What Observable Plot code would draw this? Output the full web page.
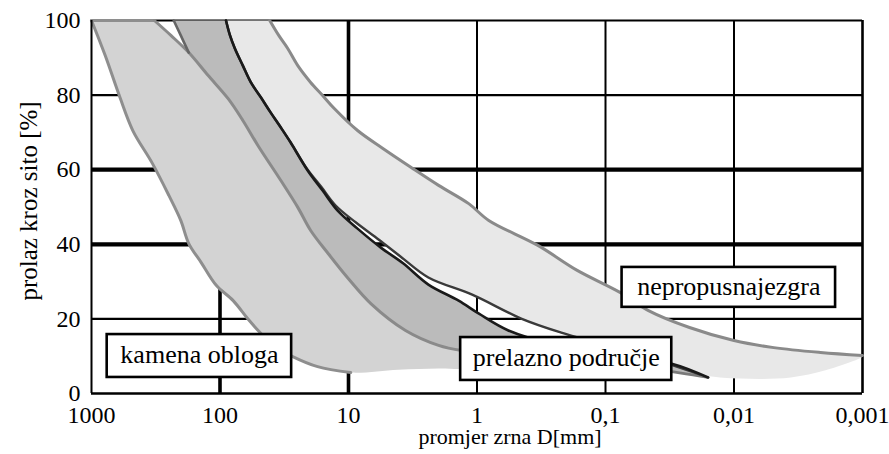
<!DOCTYPE html>
<html>
<head>
<meta charset="utf-8">
<script src="https://cdn.jsdelivr.net/npm/d3@7"></script>
<script src="https://cdn.jsdelivr.net/npm/@observablehq/plot@0.6"></script>
<style>
  html, body { margin: 0; padding: 0; background: white; }
  svg { display: block; }
  #chart svg text { font-family: "Liberation Serif", "Times New Roman", serif !important; fill: black; }
  #chart g[aria-label="x-axis tick label"] text { font-size: 24px !important; }
  #chart g[aria-label="y-axis tick label"] text { font-size: 24px !important; }
  #chart g[aria-label="xtitle"] text { font-size: 22px !important; }
  #chart g[aria-label="ytitle"] text { font-size: 25px !important; }
  #chart g[aria-label="zonelabels"] text { font-size: 26px !important; }
</style>
</head>
<body>
<div id="chart"></div>
<script>
// ---- data: [grain diameter D (mm), passing (%)] ----
const xTicks = [1000, 100, 10, 1, 0.1, 0.01, 0.001];
const xTickLabels = ["1000", "100", "10", "1", "0,1", "0,01", "0,001"];
const yTicks = [0, 20, 40, 60, 80, 100];

// kamena obloga (rock armour)
const kamenaLeft = [[1000,100],[782,90.6],[601,79.4],[477,70.5],[336,61.7],[250,53.1],[202,46.4],[175,40.2],[140,35.1],[107,29.0],[79,24.9],[61,20.1],[49,16.4],[37.5,12.6],[27.2,9.9],[17.4,7.2],[9.6,5.6]];
const kamenaBottom = [[4.1,6.4],[2.0,6.7],[1.16,7.2]];
const kamenaRight = [[324,100],[241,96.0],[175,91.4],[124,85.3],[86.7,79.1],[66.4,73.2],[50.7,66.5],[33.6,57.1],[24.8,49.9],[19.7,43.7],[14.6,37.8],[10.2,31.1],[6.7,24.1],[3.6,16.9],[1.99,12.9],[1.31,11.5]];

// prelazno područje (transition zone)
const prelaznoLeft = [[229,100],[202,96.0],[175,91.4],[124,85.3],[86.7,79.1],[66.4,73.2],[50.7,66.5],[33.6,57.1],[24.8,49.9],[19.7,43.7],[14.6,37.8],[10.2,31.1],[6.7,24.1],[3.6,16.9],[1.99,12.9],[1.31,11.5],[0.478,10.2],[0.117,8.3],[0.0388,6.4],[0.0159,4.3]];
const prelaznoRight = [[89.8,100],[83.6,96.0],[76.6,92.5],[66.4,87.9],[57.5,83.4],[48.1,79.4],[40.3,75.3],[33.6,71.3],[28.2,67.3],[20.8,59.8],[15.9,54.4],[12.2,49.1],[8.5,44.2],[5.6,39.1],[3.76,34.9],[2.39,29.2],[1.39,24.9],[0.966,21.4],[0.570,16.9],[0.237,12.9],[0.0815,10.2],[0.0305,8.0],[0.0159,4.3]];

// nepropusna jezgra (impermeable core)
const jezgraLeft = [[89.8,100],[83.6,96.0],[76.6,92.5],[66.4,87.9],[57.5,83.4],[48.1,79.4],[40.3,75.3],[33.6,71.3],[28.2,67.3],[21.2,60.4],[16.3,55.4],[12.6,50.4],[8.8,45.9],[5.8,41.2],[3.9,36.6],[2.39,31.1],[1.09,26.5],[0.453,20.1],[0.224,16.4],[0.098,12.9],[0.0388,8.8],[0.0185,5.1]];
const jezgraBottom = [[0.00883,4.0],[0.00361,4.3],[0.00194,6.2],[0.001,9.9]];
const jezgraRight = [[41,100],[34.9,96.0],[29.7,92.5],[24.8,87.9],[19.7,83.4],[15.9,79.9],[12.9,76.4],[8.5,70.5],[5.4,65.7],[3.25,60.6],[1.99,55.8],[1.16,50.9],[0.81,46.4],[0.336,39.7],[0.166,33.0],[0.0771,27.1],[0.0467,22.3],[0.0222,17.7],[0.01,14.2],[0.0049,12.3],[0.00212,11.0],[0.001,10.2]];

// zone labels (boxes in data units)
const zoneLabels = [
  {label: "kamena obloga", x1: 755, x2: 27.7, y1: 4.3, y2: 15.8},
  {label: "prelazno područje", x1: 1.34, x2: 0.0305, y1: 3.5, y2: 15.0},
  {label: "nepropusnajezgra", x1: 0.0743, x2: 0.00162, y1: 23.1, y2: 33.8}
];

// ---- polygons built from the arrays ----
const kamenaPoly = [...kamenaLeft, ...kamenaBottom, ...kamenaRight.slice().reverse()];
const prelaznoPoly = [...prelaznoLeft, ...prelaznoRight.slice().reverse()];
const jezgraPoly = [...jezgraLeft, ...jezgraBottom, ...jezgraRight.slice().reverse()];

const X = d => d[0], Y = d => d[1];
const curve = "catmull-rom";
const fillPoly = (data, fill) => Plot.line(data, {x: X, y: Y, fill, stroke: "none", curve});
const edge = (data, stroke, strokeWidth) => Plot.line(data, {x: X, y: Y, stroke, strokeWidth, curve, strokeLinejoin: "round", strokeLinecap: "round"});

const chart = Plot.plot({
  width: 889,
  height: 454,
  marginLeft: 91,
  marginRight: 27,
  marginTop: 20,
  marginBottom: 61,
  x: {type: "log", domain: [1000, 0.001]},
  y: {domain: [0, 100]},
  style: "font-family: 'Liberation Serif', serif; font-size: 24px; background: white; color: black;",
  marks: [
    // grid
    Plot.ruleY([20, 80, 100], {stroke: "black", strokeWidth: 2.2}),
    Plot.ruleY([40, 60], {stroke: "black", strokeWidth: 4.2}),
    Plot.ruleX([100, 10], {stroke: "black", strokeWidth: 3.6}),
    Plot.ruleX([1, 0.1, 0.01], {stroke: "black", strokeWidth: 2}),
    Plot.ruleX([0.001], {stroke: "black", strokeWidth: 2.6}),
    // zones
    fillPoly(jezgraPoly, "#e8e8e8"),
    fillPoly(kamenaPoly, "#d3d3d3"),
    fillPoly(prelaznoPoly, "#bbbbbb"),
    edge([[1000,100],[324,100]], "#8e8e8e", 3),
    edge(kamenaLeft, "#8e8e8e", 3),
    edge(kamenaRight, "#8a8a8a", 3),
    edge(prelaznoLeft.slice(0, 3), "#666666", 2.6),
    edge(prelaznoLeft.slice(15), "#7a7a7a", 2.6),
    edge(jezgraRight, "#8a8a8a", 3),
    edge(jezgraLeft, "#3a3a3a", 2.4),
    edge(prelaznoRight, "#1a1a1a", 2.6),
    // axes lines
    Plot.ruleX([1000], {stroke: "black", strokeWidth: 2}),
    Plot.ruleY([0], {stroke: "black", strokeWidth: 2.4}),
    Plot.axisX(xTicks, {tickSize: 0, tickPadding: 12, fontSize: 24, label: null,
      tickFormat: d => xTickLabels[xTicks.indexOf(d)]}),
    Plot.axisY(yTicks, {tickSize: 0, tickPadding: 11, fontSize: 24, label: null}),
    Plot.text(["promjer zrna D[mm]"], {ariaLabel: "xtitle", text: d => d, frameAnchor: "bottom", textAnchor: "middle", lineAnchor: "middle", dx: 33, dy: 43, fontSize: 22}),
    Plot.text(["prolaz kroz sito [%]"], {ariaLabel: "ytitle", text: d => d, frameAnchor: "left", textAnchor: "middle", lineAnchor: "middle", rotate: -90, dx: -63, dy: -6, fontSize: 25}),
    // zone label boxes
    Plot.rect(zoneLabels, {x1: "x1", x2: "x2", y1: "y1", y2: "y2", fill: "white", stroke: "black", strokeWidth: 2.6}),
    Plot.text(zoneLabels, {ariaLabel: "zonelabels", x: d => Math.sqrt(d.x1 * d.x2), y: d => (d.y1 + d.y2) / 2, text: "label", fontSize: 26, lineAnchor: "middle", dy: -1})
  ]
});
document.getElementById("chart").appendChild(chart);
</script>
</body>
</html>
